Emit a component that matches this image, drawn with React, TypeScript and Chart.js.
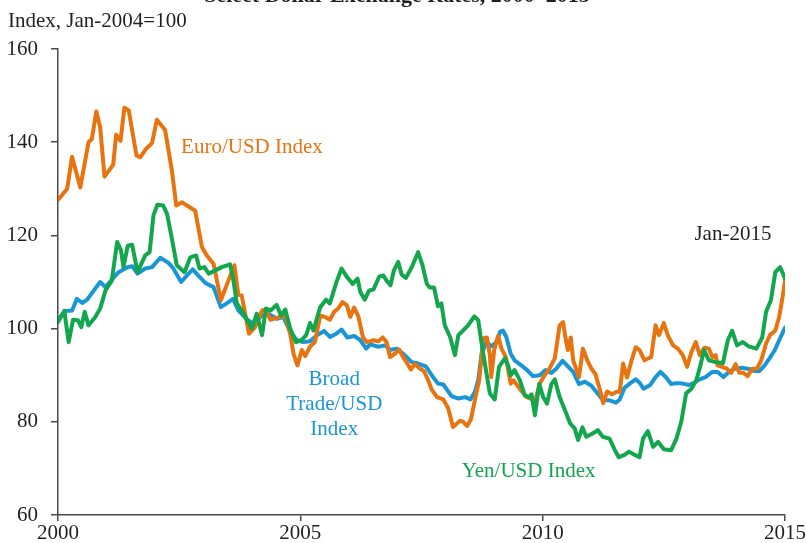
import React, { useEffect, useRef } from "react";
import { Chart, registerables } from "chart.js";

Chart.register(...registerables);

// ---- Data (decimal year, index Jan-2004 = 100) ----
const euroDates = [
  2000.00, 2000.19, 2000.29, 2000.46, 2000.63, 2000.70, 2000.79, 2000.87, 2000.96, 2001.14,
  2001.20, 2001.29, 2001.37, 2001.46, 2001.62, 2001.70, 2001.82, 2001.94, 2002.04, 2002.21,
  2002.35, 2002.44, 2002.56, 2002.71, 2002.83, 2002.97, 2003.07, 2003.21, 2003.36, 2003.52,
  2003.64, 2003.72, 2003.79, 2003.94, 2004.06, 2004.21, 2004.29, 2004.38, 2004.55, 2004.69,
  2004.79, 2004.86, 2004.94, 2005.03, 2005.10, 2005.20, 2005.30, 2005.41, 2005.51, 2005.61,
  2005.70, 2005.78, 2005.87, 2005.96, 2006.03, 2006.11, 2006.20, 2006.29, 2006.37, 2006.51,
  2006.61, 2006.70, 2006.78, 2006.85, 2006.95, 2007.04, 2007.12, 2007.19, 2007.28, 2007.36,
  2007.47, 2007.55, 2007.64, 2007.71, 2007.82, 2007.95, 2008.05, 2008.15, 2008.29, 2008.36,
  2008.44, 2008.52, 2008.60, 2008.69, 2008.74, 2008.77, 2008.85, 2008.91, 2008.94, 2009.00,
  2009.08, 2009.15, 2009.24, 2009.34, 2009.40, 2009.47, 2009.58, 2009.67, 2009.75, 2009.84,
  2009.94, 2010.04, 2010.14, 2010.25, 2010.35, 2010.42, 2010.48, 2010.52, 2010.58, 2010.63,
  2010.70, 2010.75, 2010.83, 2010.92, 2011.00, 2011.09, 2011.17, 2011.25, 2011.33, 2011.43,
  2011.54, 2011.59, 2011.66, 2011.74, 2011.83, 2011.92, 2012.00, 2012.10, 2012.24, 2012.33,
  2012.40, 2012.50, 2012.58, 2012.69, 2012.79, 2012.89, 2012.98, 2013.07, 2013.16, 2013.24,
  2013.34, 2013.43, 2013.50, 2013.57, 2013.61, 2013.70, 2013.80, 2013.89, 2013.98, 2014.06,
  2014.14, 2014.23, 2014.32, 2014.42, 2014.51, 2014.61, 2014.69, 2014.80, 2014.88, 2014.94,
  2015.00,
];
const euroValues = [
  127.6, 130.0, 136.9, 130.3, 140.0, 140.7, 146.6, 143.2, 132.6, 135.2,
  141.6, 140.3, 147.4, 146.8, 137.1, 136.8, 138.6, 139.8, 144.8, 142.6,
  133.9, 126.4, 127.1, 126.1, 125.3, 117.5, 115.7, 113.9, 106.1, 110.4,
  113.6, 107.3, 107.1, 98.9, 100.2, 103.9, 104.1, 101.9, 102.4, 102.8,
  98.9, 94.6, 92.1, 95.4, 94.1, 96.1, 97.1, 102.8, 102.5, 101.9,
  103.6, 104.3, 105.7, 105.0, 102.5, 104.5, 102.5, 98.2, 97.1, 97.5,
  97.3, 98.1, 97.1, 93.9, 94.6, 95.5, 93.9, 92.8, 91.2, 92.4,
  91.4, 90.9, 88.9, 86.9, 85.3, 84.8, 82.9, 78.9, 80.2, 80.0,
  79.1, 80.5, 84.6, 88.9, 93.9, 97.9, 98.1, 94.3, 89.6, 95.4,
  98.4, 95.7, 93.9, 88.2, 88.9, 87.9, 86.4, 85.3, 85.0, 84.3,
  88.2, 90.0, 91.4, 93.6, 100.7, 101.4, 97.5, 95.4, 98.1, 93.2,
  91.1, 89.6, 95.7, 93.2, 91.5, 90.2, 87.3, 84.0, 86.5, 85.9,
  86.5, 86.4, 92.5, 89.5, 93.0, 96.0, 95.4, 93.2, 93.9, 100.7,
  98.6, 101.2, 98.6, 96.4, 95.7, 94.3, 91.8, 95.0, 97.1, 94.3,
  95.9, 95.7, 93.9, 94.3, 92.1, 91.8, 91.4, 90.5, 92.4, 90.5,
  90.5, 89.8, 91.4, 91.4, 93.2, 96.8, 98.6, 99.6, 102.5, 106.1,
  110.3,
];

const yenDates = [
  2000.00, 2000.13, 2000.22, 2000.31, 2000.41, 2000.48, 2000.55, 2000.63, 2000.77, 2000.87,
  2000.98, 2001.11, 2001.22, 2001.30, 2001.35, 2001.44, 2001.53, 2001.64, 2001.80, 2001.89,
  2001.97, 2002.05, 2002.17, 2002.25, 2002.35, 2002.45, 2002.61, 2002.73, 2002.85, 2002.92,
  2003.02, 2003.11, 2003.38, 2003.55, 2003.62, 2003.69, 2003.83, 2004.00, 2004.10, 2004.21,
  2004.29, 2004.39, 2004.51, 2004.60, 2004.69, 2004.79, 2004.91, 2005.03, 2005.12, 2005.20,
  2005.27, 2005.41, 2005.53, 2005.61, 2005.74, 2005.85, 2005.96, 2006.08, 2006.18, 2006.24,
  2006.33, 2006.42, 2006.51, 2006.63, 2006.71, 2006.78, 2006.86, 2006.93, 2007.02, 2007.09,
  2007.18, 2007.30, 2007.43, 2007.52, 2007.61, 2007.67, 2007.76, 2007.84, 2007.91, 2007.98,
  2008.09, 2008.19, 2008.26, 2008.36, 2008.46, 2008.59, 2008.67, 2008.74, 2008.83, 2008.91,
  2008.94, 2009.01, 2009.10, 2009.22, 2009.29, 2009.34, 2009.42, 2009.53, 2009.63, 2009.72,
  2009.77, 2009.84, 2009.93, 2010.01, 2010.09, 2010.18, 2010.25, 2010.35, 2010.46, 2010.57,
  2010.66, 2010.73, 2010.82, 2010.90, 2011.03, 2011.14, 2011.24, 2011.38, 2011.49, 2011.57,
  2011.69, 2011.78, 2011.90, 2012.00, 2012.07, 2012.17, 2012.28, 2012.38, 2012.50, 2012.65,
  2012.76, 2012.86, 2012.96, 2013.07, 2013.17, 2013.25, 2013.33, 2013.43, 2013.57, 2013.72,
  2013.82, 2013.91, 2014.01, 2014.13, 2014.25, 2014.41, 2014.53, 2014.61, 2014.71, 2014.80,
  2014.90, 2015.00,
];
const yenValues = [
  101.4, 103.8, 97.1, 101.9, 101.8, 100.3, 103.6, 100.7, 102.5, 104.3,
  108.2, 110.3, 118.6, 116.8, 113.2, 117.8, 118.0, 112.1, 115.7, 116.4,
  124.3, 126.6, 126.4, 124.6, 119.3, 113.6, 112.1, 115.3, 115.7, 112.9,
  113.2, 111.8, 113.2, 113.8, 110.3, 105.4, 103.2, 100.0, 103.2, 98.6,
  104.3, 103.9, 105.1, 102.8, 104.1, 100.0, 97.1, 97.6, 98.6, 101.2,
  99.6, 104.6, 106.2, 105.4, 109.8, 112.9, 111.1, 109.6, 110.7, 107.8,
  106.2, 108.2, 108.4, 111.2, 111.4, 110.3, 109.3, 112.5, 114.3, 111.6,
  110.9, 113.2, 116.4, 113.6, 109.6, 108.8, 108.8, 104.8, 105.4, 100.7,
  98.2, 94.3, 98.6, 99.6, 100.7, 102.6, 101.8, 96.8, 91.1, 86.1,
  85.7, 84.8, 91.8, 93.6, 92.1, 90.0, 91.1, 88.9, 85.7, 85.3,
  85.9, 81.4, 88.1, 85.3, 83.9, 88.1, 89.1, 85.3, 82.5, 79.6,
  78.6, 76.1, 78.8, 76.8, 77.5, 78.2, 76.8, 76.4, 73.9, 72.4,
  72.9, 73.6, 72.9, 72.4, 76.4, 78.0, 74.6, 75.7, 74.1, 73.9,
  76.4, 80.0, 86.1, 87.1, 88.9, 91.9, 95.4, 93.2, 92.8, 92.6,
  97.5, 99.5, 96.4, 97.1, 96.2, 95.7, 98.1, 103.6, 106.1, 112.1,
  113.2, 110.7,
];

const broadDates = [
  2000.00, 2000.15, 2000.29, 2000.39, 2000.50, 2000.60, 2000.74, 2000.87, 2000.98, 2001.11,
  2001.25, 2001.42, 2001.53, 2001.64, 2001.80, 2001.94, 2002.11, 2002.28, 2002.38, 2002.54,
  2002.66, 2002.78, 2002.90, 2003.04, 2003.21, 2003.36, 2003.48, 2003.61, 2003.72, 2003.90,
  2004.03, 2004.21, 2004.34, 2004.51, 2004.65, 2004.79, 2004.93, 2005.06, 2005.20, 2005.35,
  2005.49, 2005.61, 2005.74, 2005.85, 2005.97, 2006.11, 2006.23, 2006.36, 2006.44, 2006.61,
  2006.75, 2006.85, 2006.99, 2007.12, 2007.30, 2007.43, 2007.59, 2007.71, 2007.84, 2007.95,
  2008.12, 2008.26, 2008.40, 2008.51, 2008.60, 2008.67, 2008.74, 2008.84, 2008.94, 2009.05,
  2009.12, 2009.18, 2009.25, 2009.34, 2009.42, 2009.56, 2009.68, 2009.80, 2009.94, 2010.06,
  2010.18, 2010.28, 2010.41, 2010.52, 2010.63, 2010.75, 2010.87, 2011.00, 2011.11, 2011.24,
  2011.38, 2011.51, 2011.59, 2011.69, 2011.81, 2011.92, 2012.00, 2012.08, 2012.22, 2012.33,
  2012.43, 2012.54, 2012.65, 2012.77, 2012.89, 2013.02, 2013.11, 2013.24, 2013.36, 2013.50,
  2013.61, 2013.73, 2013.84, 2013.96, 2014.10, 2014.23, 2014.37, 2014.47, 2014.58, 2014.68,
  2014.79, 2014.88, 2015.00,
];
const broadValues = [
  101.9, 103.8, 103.9, 106.4, 105.5, 106.2, 108.2, 110.0, 108.9, 110.5,
  112.1, 113.1, 113.4, 111.8, 112.9, 113.2, 115.2, 114.1, 112.9, 110.0,
  111.4, 112.7, 111.3, 109.8, 108.9, 104.6, 105.4, 106.4, 103.9, 102.0,
  101.0, 102.8, 103.2, 102.1, 102.5, 99.3, 97.5, 97.1, 97.3, 98.6,
  99.5, 98.2, 98.9, 99.8, 98.1, 98.4, 97.6, 95.7, 96.6, 96.1,
  96.4, 95.4, 95.7, 94.6, 92.8, 92.5, 91.9, 90.0, 88.2, 88.0,
  85.5, 85.0, 85.3, 84.8, 86.4, 88.9, 94.6, 97.1, 96.2, 97.1,
  99.3, 99.6, 98.2, 94.6, 93.2, 92.1, 91.1, 89.8, 90.0, 91.1,
  90.5, 91.4, 93.1, 91.9, 90.7, 88.1, 88.6, 87.8, 86.4, 84.7,
  84.6, 84.1, 84.8, 87.3, 88.3, 89.1, 88.4, 87.1, 87.9, 89.6,
  90.7, 89.6, 88.1, 88.3, 88.2, 87.9, 88.3, 89.1, 89.6, 90.7,
  90.7, 89.6, 90.7, 91.4, 91.6, 91.4, 90.9, 90.9, 92.1, 93.6,
  95.4, 97.5, 100.2,
];

const yTicks = [60, 80, 100, 120, 140, 160];
const xTicks = [2000, 2005, 2010, 2015];

const chartTitle = "Select Dollar Exchange Rates, 2000\u20132015";
const unitLabel = "Index, Jan-2004=100";

const COLORS = {
  euro: "#E8730F",
  yen: "#12A64D",
  broad: "#1996D6",
  text: "#231F20",
  axis: "#4a4a4a",
};

const FONT = '"Liberation Serif", "Times New Roman", serif';

// Series labels anchored in data coordinates (year, index value)
const seriesLabels = [
  { lines: ["Euro/USD Index"], x: 2002.54, y: 137.6, align: "left", color: COLORS.euro },
  { lines: ["Broad", "Trade/USD", "Index"], x: 2005.7, y: 87.9, align: "center", color: COLORS.broad },
  { lines: ["Yen/USD Index"], x: 2008.33, y: 68.1, align: "left", color: COLORS.yen },
  { lines: ["Jan-2015"], x: 2014.72, y: 119.1, align: "right", color: COLORS.text },
];

function toPoints(xs: number[], ys: number[]) {
  return xs.map((x, i) => ({ x, y: ys[i] }));
}

const textPlugin = {
  id: "textPlugin",
  afterDatasetsDraw(chart: any) {
    const ctx = chart.ctx;
    const xs = chart.scales.x;
    const ys = chart.scales.y;
    ctx.save();
    ctx.font = `21px ${FONT}`;
    ctx.textBaseline = "alphabetic";
    for (const lab of seriesLabels) {
      ctx.fillStyle = lab.color;
      ctx.textAlign = lab.align as CanvasTextAlign;
      const px = xs.getPixelForValue(lab.x);
      const py = ys.getPixelForValue(lab.y);
      lab.lines.forEach((ln, i) => ctx.fillText(ln, px, py + i * 25));
    }
    // unit label (top-left)
    ctx.fillStyle = COLORS.text;
    ctx.textAlign = "left";
    ctx.fillText(unitLabel, 8, 27);
    // title (clipped at top edge as in the source)
    ctx.font = `bold 22px ${FONT}`;
    ctx.textAlign = "center";
    ctx.fillText(chartTitle, 397, 2);
    ctx.restore();
  },
};

export default function App() {
  const ref = useRef<HTMLCanvasElement | null>(null);

  useEffect(() => {
    if (!ref.current) return;
    const common = {
      pointRadius: 0,
      borderWidth: 4,
      tension: 0,
      fill: false,
      borderJoinStyle: "round" as const,
      borderCapStyle: "round" as const,
    };
    const chart = new Chart(ref.current, {
      type: "line",
      data: {
        datasets: [
          { ...common, label: "Yen/USD Index", data: toPoints(yenDates, yenValues), borderColor: COLORS.yen },
          { ...common, label: "Euro/USD Index", data: toPoints(euroDates, euroValues), borderColor: COLORS.euro },
          { ...common, label: "Broad Trade/USD Index", data: toPoints(broadDates, broadValues), borderColor: COLORS.broad },
        ],
      },
      options: {
        animation: false,
        responsive: false,
        maintainAspectRatio: false,
        layout: { padding: { top: 49, right: 20, left: 0, bottom: 0 } },
        plugins: {
          legend: { display: false },
          tooltip: { enabled: false },
          title: { display: false },
        },
        scales: {
          x: {
            type: "linear",
            min: 2000,
            max: 2015,
            afterBuildTicks: (s: any) => {
              s.ticks = xTicks.map((v) => ({ value: v }));
            },
            afterFit: (s: any) => {
              s.height = 28;
            },
            ticks: {
              color: COLORS.text,
              font: { family: FONT, size: 21 },
              padding: 0,
              maxRotation: 0,
              autoSkip: false,
              callback: (v: any) => String(v),
            },
            grid: { display: true, drawOnChartArea: false, drawTicks: true, tickLength: 6, color: COLORS.axis, lineWidth: 1.5 },
            border: { display: true, color: COLORS.axis, width: 1.5 },
          },
          y: {
            type: "linear",
            min: 60,
            max: 160,
            afterBuildTicks: (s: any) => {
              s.ticks = yTicks.map((v) => ({ value: v }));
            },
            afterFit: (s: any) => {
              s.width = 58;
            },
            ticks: {
              color: COLORS.text,
              font: { family: FONT, size: 21 },
              padding: 13,
              autoSkip: false,
              callback: (v: any) => String(v),
            },
            grid: { display: true, drawOnChartArea: false, drawTicks: true, tickLength: 7, color: COLORS.axis, lineWidth: 1.5 },
            border: { display: true, color: COLORS.axis, width: 1.5 },
          },
        },
      },
      plugins: [textPlugin],
    });
    return () => chart.destroy();
  }, []);

  return (
    <div style={{ position: "fixed", left: 0, top: 0, width: 806, height: 543, background: "#fff" }}>
      <canvas ref={ref} width={806} height={543} style={{ width: 806, height: 543, display: "block" }} />
    </div>
  );
}
